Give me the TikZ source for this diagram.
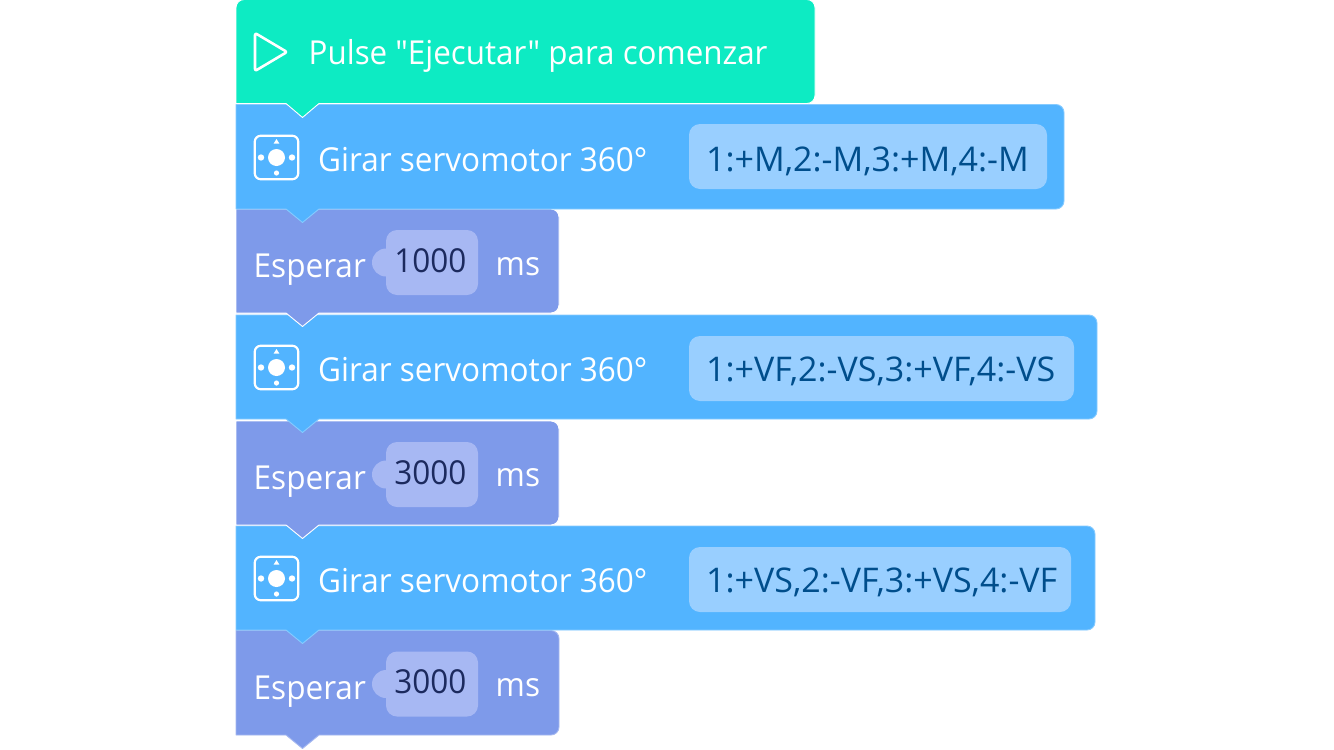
\documentclass[tikz,border=0pt]{standalone}
\usepackage{fontspec}
\setmainfont{Open Sans}[Ligatures=TeXOff]
\newfontfamily\narrowfont{Open Sans}[Ligatures=TeXOff,FakeStretch=0.955]
\newfontfamily\startfont{Open Sans}[Ligatures=TeXOff,FakeStretch=0.95]
\definecolor{cgreen}{HTML}{0DEBC3}
\definecolor{cblue}{HTML}{52B4FF}
\definecolor{clil}{HTML}{7E9AEA}
\definecolor{cpill}{HTML}{99CFFF}
\definecolor{cnum}{HTML}{A7B8F3}
\definecolor{cptxt}{HTML}{004E8C}
\definecolor{cntxt}{HTML}{1C2A5E}
\newcommand{\blockpath}[5]{% fill, edge, x2, y1, y2
  \path[fill=#1,draw=#2,line width=0.9pt,line join=round]
    (236,#4) [rounded corners=8pt] -- (#3,#4) -- (#3,#5) -- (#3-40,#5) [sharp corners]
    -- (319,#5) -- (302.5,#5+13.5) -- (286,#5) -- (236,#5) -- cycle;}
\newcommand{\iconserv}[3]{% name, cx, cy
  \node[iconbox] (#1) at (#2,#3) {};
  \fill[white] (#2,#3) circle (8.5);
  \fill[white] (#2-15.5,#3) circle (3.2);
  \fill[white] (#2+15.5,#3) circle (3.2);
  \fill[white] (#2,#3+15.5) circle (2.6);
  \fill[white] (#2-2.8,#3-14) -- (#2,#3-18.5) -- (#2+2.8,#3-14) -- cycle;}
\newcommand{\numpill}[3]{% name, cy, text
  \fill[cnum] (386,#2) circle (14);
  \fill[cnum,rounded corners=11pt] (386,#2-32.5) rectangle (478,#2+32.5);
  \node[numtxt] (#1) at (430.3,#2+9.5) {#3};}
\tikzset{
  x=1pt,y=-1pt,
  lab/.style={anchor=base west,text=white,inner sep=0pt,font=\narrowfont\fontsize{33}{38}\selectfont},
  numtxt/.style={anchor=base,text=cntxt,inner sep=0pt,font=\narrowfont\fontsize{33}{38}\selectfont},
  cmdtxt/.style={anchor=base west,text=cptxt,inner sep=0pt,font=\fontsize{34}{39}\selectfont},
  iconbox/.style={draw=white,line width=2.2pt,rounded corners=6pt,minimum width=43.5pt,minimum height=43.5pt,inner sep=0pt},
  pillbox/.style={fill=cpill,rounded corners=11pt}
}
\begin{document}
\begin{tikzpicture}
\useasboundingbox (0,0) rectangle (1334,750);
\fill[white] (0,0) rectangle (1334,750);
% bottom to top, so that each tab lies over the next block
\blockpath{clil}{clil!70!white}{559}{630.5}{735}
\blockpath{cblue}{cblue!70!white}{1095}{526}{630}
\blockpath{clil}{white}{559}{421}{525}
\blockpath{cblue}{cblue!70!white}{1097}{315}{419}
\blockpath{clil}{white}{559}{209}{313}
\blockpath{cblue}{cblue!70!white}{1064}{104.5}{209}
\path[fill=cgreen,draw=white,line width=0.9pt,line join=round]
  (236,20) [rounded corners=8pt] -- (236,-0.5) -- (815,-0.5) -- (815,103.5) -- (780,103.5) [sharp corners]
  -- (319,103.5) -- (302.5,117.5) -- (286,103.5) -- (236,103.5) -- cycle;
% start block
\draw[white,line width=2.6pt,line join=round,rounded corners=2pt] (255,33) -- (287,52) -- (255,71) -- cycle;
\node[lab,font=\startfont\fontsize{33}{38}\selectfont] (start) at (308.5,64.5) {Pulse "Ejecutar" para comenzar};
% servo blocks
\iconserv{i1}{276.5}{157.5}
\node[lab] (g1) at (318,171) {Girar servomotor 360°};
\fill[pillbox] (689,124) rectangle (1047,189);
\node[cmdtxt] (c1) at (706,171) {1:+M,2:-M,3:+M,4:-M};
\iconserv{i2}{276.5}{367.5}
\node[lab] (g2) at (318,381) {Girar servomotor 360°};
\fill[pillbox] (689,336) rectangle (1074,401);
\node[cmdtxt] (c2) at (706,381) {1:+VF,2:-VS,3:+VF,4:-VS};
\iconserv{i3}{276.5}{578.5}
\node[lab] (g3) at (318,592) {Girar servomotor 360°};
\fill[pillbox] (689,547) rectangle (1071,612);
\node[cmdtxt] (c3) at (706,592) {1:+VS,2:-VF,3:+VS,4:-VF};
% wait blocks
\node[lab] (e1) at (253.5,277.5) {Esperar};
\numpill{n1}{262.5}{1000}
\node[lab] (m1) at (495.5,275) {ms};
\node[lab] (e2) at (253.5,489.5) {Esperar};
\numpill{n2}{474.5}{3000}
\node[lab] (m2) at (495.5,486) {ms};
\node[lab] (e3) at (253.5,699.5) {Esperar};
\numpill{n3}{684}{3000}
\node[lab] (m3) at (495.5,696) {ms};
\end{tikzpicture}
\end{document}
